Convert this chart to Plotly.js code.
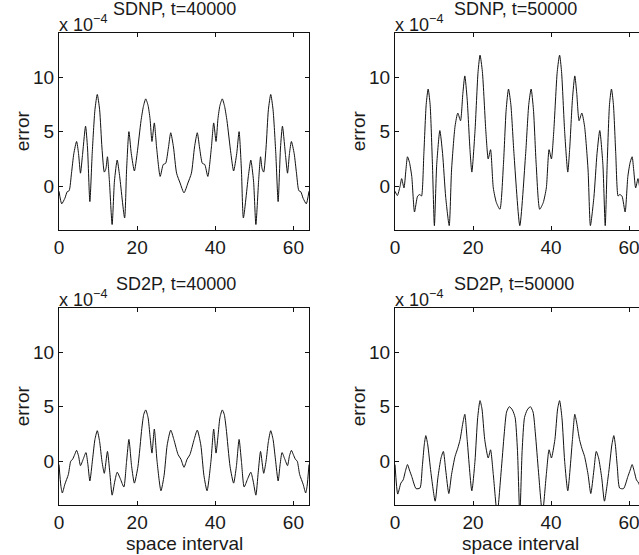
<!DOCTYPE html>
<html>
<head>
<meta charset="utf-8">
<script src="https://cdn.plot.ly/plotly-3.0.1.min.js"></script>
<style>
html,body{margin:0;padding:0;background:#fff;overflow:hidden;}
#chart{width:639px;height:555px;}
</style>
</head>
<body>
<div id="chart"></div>
<script>
// ---- data (space interval vs error, x 1e-4) ----
const sdnp40_x = [0,0.7,1.5,2.1,2.6,3.2,3.8,4.5,5.0,5.5,6.0,6.8,7.3,7.9,8.5,9.2,9.8,10.4,11.0,11.6,12.0,12.4,12.9,13.6,14.2,14.9,15.5,16.8,17.3,17.9,18.5,19.3,20.0,21.0,21.6,22.2,22.8,23.3,23.8,24.4,25.0,25.9,26.7,27.3,28.0,28.6,29.3,30.1,31.0,32.0,
  33.0,33.9,34.7,35.4,36.0,36.7,37.3,38.1,39.0,39.6,40.2,40.7,41.2,41.8,42.4,43.0,44.0,44.7,45.5,46.1,46.7,47.2,48.5,49.1,49.8,50.4,51.1,51.6,52.0,52.4,53.0,53.6,54.2,54.8,55.5,56.1,56.7,57.2,58.0,58.5,59.0,59.5,60.2,60.8,61.4,61.9,62.5,63.3,64.0];
const sdnp40_y = [-0.45,-1.6,-1.1,-0.5,-0.4,1.2,3.0,4.1,3.0,1.2,2.8,5.5,3.5,-1.4,3.0,7.0,8.4,7.0,3.5,1.3,1.6,2.7,0.5,-3.5,0.5,2.4,1.0,-2.9,1.5,5.0,3.0,1.4,3.0,6.0,7.3,8.0,7.4,6.2,4.1,5.8,3.5,0.9,2.0,2.1,3.5,4.9,3.6,1.2,0.3,-0.6,
  0.3,1.2,3.6,4.9,3.5,2.1,2.0,0.9,3.5,5.8,4.1,6.2,7.4,8.0,7.3,6.0,3.0,1.4,3.0,5.0,1.5,-2.9,1.0,2.4,0.5,-3.5,0.5,2.7,1.6,1.3,3.5,7.0,8.4,7.0,3.0,-1.4,3.5,5.5,2.8,1.2,3.0,4.1,3.0,1.2,-0.4,-0.5,-1.1,-1.6,-0.45];

const sdnp50_x = [0,0.6,1.3,1.7,2.3,2.8,3.2,3.7,4.3,5.0,5.8,6.4,6.8,7.4,8.0,8.5,9.0,9.6,10.1,10.7,11.5,12.2,13.0,13.9,14.5,15.4,16.1,16.8,17.4,17.9,18.5,19.2,19.7,20.5,21.3,21.8,22.4,23.3,23.9,24.5,25.2,26.0,26.9,27.8,28.5,29.1,29.7,30.5,32.0,
  33.5,34.3,34.9,35.5,36.2,37.1,38.0,38.8,39.5,40.1,40.7,41.6,42.2,42.7,43.5,44.3,44.8,45.5,46.1,46.6,47.2,47.9,48.6,49.5,50.1,51.0,51.8,52.5,53.3,53.9,54.4,55.0,55.5,56.0,56.6,57.2,57.6,58.2,59.0,59.7,60.3,60.8,61.2,61.7,62.3,62.7,63.4,64.0];
const sdnp50_y = [-0.45,-0.85,0.0,0.7,-0.15,1.5,2.7,2.2,0.9,-2.35,-0.9,-0.75,-0.9,3.0,7.5,8.9,7.5,2.0,-3.6,2.0,5.1,3.0,-1.0,-3.6,1.5,5.5,6.7,6.0,8.5,10.1,8.0,3.5,1.3,5.0,10.5,12.0,10.5,5.0,2.5,3.35,-0.15,-1.5,-2.1,2.0,7.0,8.9,7.5,3.0,-3.6,
  3.0,7.5,8.9,7.0,2.0,-2.1,-1.5,-0.15,3.35,2.5,5.0,10.5,12.0,10.5,5.0,1.3,3.5,8.0,10.1,8.5,6.0,6.7,5.5,1.5,-3.6,-1.0,3.0,5.1,2.0,-3.6,2.0,7.5,8.9,7.5,3.0,-0.9,-0.75,-0.9,-2.35,0.9,2.2,2.7,1.5,-0.15,0.7,0.0,-0.85,-0.45];

const sd2p40_x = [0,0.5,0.85,1.5,2.4,3.0,3.5,4.0,4.5,5.0,5.5,6.2,6.9,7.4,7.9,8.6,9.2,9.8,10.4,11.0,11.6,12.4,13.0,13.6,14.3,14.9,15.7,16.6,17.3,17.9,18.6,19.3,20.2,21.2,21.7,22.2,22.8,23.3,23.8,24.4,25.1,26.1,26.9,27.7,28.6,29.4,30.5,31.2,32.0,
  32.8,33.5,34.6,35.4,36.3,37.1,37.9,38.9,39.6,40.2,40.7,41.2,41.8,42.3,42.8,43.8,44.7,45.4,46.1,46.7,47.4,48.3,49.1,49.7,50.4,51.0,51.6,52.4,53.0,53.6,54.2,54.8,55.4,56.1,56.6,57.1,57.8,58.5,59.0,59.5,60.0,60.5,61.0,61.6,62.5,63.15,63.5,64.0];
const sd2p40_y = [-0.3,-2.3,-2.9,-2.1,-1.2,0.0,0.2,0.6,1.0,0.5,-0.4,0.2,0.8,-0.3,-1.8,0.2,2.0,2.8,1.8,0.0,-1.1,0.9,-1.0,-3.1,-1.8,-1.0,-1.6,-2.35,0.0,2.0,-0.5,-2.0,-0.5,3.0,4.3,4.7,4.0,2.3,0.75,2.95,0.0,-2.7,-1.3,1.5,2.85,2.0,0.6,0.2,-0.55,
  0.2,0.6,2.0,2.85,1.5,-1.3,-2.7,0.0,2.95,0.75,2.3,4.0,4.7,4.3,3.0,-0.5,-2.0,-0.5,2.0,0.0,-2.35,-1.6,-1.0,-1.8,-3.1,-1.0,0.9,-1.1,0.0,1.8,2.8,2.0,0.2,-1.8,-0.3,0.8,0.2,-0.4,0.5,1.0,0.6,0.2,0.0,-1.2,-2.1,-2.9,-2.3,-0.3];

const sd2p50_x = [0,0.7,1.5,2.1,2.6,3.2,3.7,4.3,5.4,6.4,7.0,7.5,7.9,8.4,9.2,10.3,11.0,11.8,12.4,13.0,13.8,14.5,15.4,16.1,16.7,17.4,17.9,18.5,19.7,20.5,21.2,21.8,22.3,23.0,23.9,24.5,25.2,26.2,27.2,28.0,28.6,29.3,30.1,30.8,31.4,32.0,
  32.6,33.2,33.9,34.7,35.4,36.0,36.8,37.8,38.8,39.5,40.1,41.0,41.7,42.2,42.8,43.5,44.3,45.5,46.1,46.6,47.3,47.9,48.6,49.5,50.2,51.0,51.6,52.2,53.0,53.7,54.8,55.6,56.1,56.5,57.0,57.6,58.6,59.7,60.3,60.8,61.4,61.9,62.5,63.3,64.0];
const sd2p50_y = [-0.3,-3.0,-2.0,-1.7,-1.0,-0.3,-0.8,-1.4,-2.5,-2.45,-0.5,1.5,2.35,1.5,-1.0,-3.65,-1.5,0.3,0.9,-0.8,-2.95,-1.2,0.45,1.2,2.0,3.5,4.3,2.0,-2.7,0.0,4.0,5.55,4.8,2.0,0.3,1.05,-1.2,-4.8,-1.0,2.5,4.5,5.0,4.7,4.0,1.0,-5.0,
  1.0,4.0,4.7,5.0,4.5,2.5,-1.0,-4.8,-1.2,1.05,0.3,2.0,4.8,5.55,4.0,0.0,-2.7,2.0,4.3,3.5,2.0,1.2,0.45,-1.2,-2.95,-0.8,0.9,0.3,-1.5,-3.65,-1.0,1.5,2.35,1.5,-0.5,-2.45,-2.5,-1.4,-0.8,-0.3,-1.0,-1.7,-2.0,-3.0,-0.3];

const panelTitles = ["SDNP, t=40000", "SDNP, t=50000", "SD2P, t=40000", "SD2P, t=50000"];
const scaleLabel = "x 10<sup>\u22124</sup>";
const xTickVals = [0, 20, 40, 60];
const yTickVals = [0, 5, 10];
const yLabel = "error";
const xLabel = "space interval";

// ---- layout ----
const W = 639, H = 555;
const FONT = '"Liberation Sans", Arial, Helvetica, sans-serif';
const TXT = '#1a1a1a';

function px2x(p){ return p / W; }
function px2y(p){ return 1 - p / H; }

const colL = [px2x(59), px2x(309)];
const colR = [px2x(395), 1];
const rowT = [px2y(230), px2y(33.3)];
const rowB = [px2y(505), px2y(308.3)];

function xax(domain, anchor, range){
  return {
    domain: domain, anchor: anchor, range: range,
    tickvals: xTickVals, ticktext: xTickVals.map(String),
    ticks: 'inside', ticklen: 4, tickwidth: 1, tickcolor: '#111',
    showline: true, linecolor: '#111', linewidth: 1,
    mirror: 'ticks', showgrid: false, zeroline: false,
    ticklabeloverflow: 'allow',
    tickfont: {family: FONT, size: 19, color: TXT},
    fixedrange: true
  };
}
function yax(domain, anchor, mirror){
  return {
    domain: domain, anchor: anchor, range: [-4, 14],
    tickvals: yTickVals, ticktext: yTickVals.map(String),
    ticks: 'inside', ticklen: 4, tickwidth: 1, tickcolor: '#111',
    showline: true, linecolor: '#111', linewidth: 1,
    mirror: mirror, showgrid: false, zeroline: false,
    ticklabeloverflow: 'allow',
    tickfont: {family: FONT, size: 19, color: TXT},
    fixedrange: true
  };
}

const lineStyle = {color: '#111', width: 1, shape: 'spline', smoothing: 0.6};

const traces = [
  {x: sdnp40_x, y: sdnp40_y, xaxis: 'x', yaxis: 'y', mode: 'lines', line: lineStyle, hoverinfo: 'skip'},
  {x: sdnp50_x, y: sdnp50_y, xaxis: 'x2', yaxis: 'y2', mode: 'lines', line: lineStyle, hoverinfo: 'skip'},
  {x: sd2p40_x, y: sd2p40_y, xaxis: 'x3', yaxis: 'y3', mode: 'lines', line: lineStyle, hoverinfo: 'skip'},
  {x: sd2p50_x, y: sd2p50_y, xaxis: 'x4', yaxis: 'y4', mode: 'lines', line: lineStyle, hoverinfo: 'skip'}
];

const ann = [];
function addPanelText(leftPx, topPx, title, titleLeftPx, showX){
  // scale factor label
  ann.push({xref: 'paper', yref: 'paper', x: px2x(leftPx - 2), y: px2y(topPx + 4),
    xanchor: 'left', yanchor: 'bottom', showarrow: false, text: scaleLabel,
    font: {family: FONT, size: 18, color: TXT}});
  // panel title
  ann.push({xref: 'paper', yref: 'paper', x: px2x(titleLeftPx), y: px2y(topPx - 12),
    xanchor: 'left', yanchor: 'bottom', showarrow: false, text: title,
    font: {family: FONT, size: 18, color: TXT}});
  // y label
  ann.push({xref: 'paper', yref: 'paper', x: px2x(leftPx - 37), y: px2y(topPx + 98),
    xanchor: 'center', yanchor: 'middle', showarrow: false, text: yLabel, textangle: -90,
    font: {family: FONT, size: 19, color: TXT}});
  if (showX){
    ann.push({xref: 'paper', yref: 'paper', x: px2x(leftPx + 125), y: px2y(topPx + 235),
      xanchor: 'center', yanchor: 'middle', showarrow: false, text: xLabel,
      font: {family: FONT, size: 19, color: TXT}});
  }
}
addPanelText(59, 33.3, panelTitles[0], 111, false);
addPanelText(395, 33.3, panelTitles[1], 452, false);
addPanelText(59, 308.3, panelTitles[2], 114, true);
addPanelText(395, 308.3, panelTitles[3], 452, true);

const layout = {
  width: W, height: H,
  margin: {l: 0, r: 0, t: 0, b: 0, pad: 0},
  paper_bgcolor: '#ffffff', plot_bgcolor: '#ffffff',
  showlegend: false,
  font: {family: FONT, size: 18, color: TXT},
  xaxis:  xax(colL, 'y',  [0, 64]),
  yaxis:  yax(rowT, 'x',  'ticks'),
  xaxis2: xax(colR, 'y2', [0, 62.56]),
  yaxis2: yax(rowT, 'x2', false),
  xaxis3: xax(colL, 'y3', [0, 64]),
  yaxis3: yax(rowB, 'x3', 'ticks'),
  xaxis4: xax(colR, 'y4', [0, 62.56]),
  yaxis4: yax(rowB, 'x4', false),
  annotations: ann
};

Plotly.newPlot('chart', traces, layout, {displayModeBar: false, staticPlot: true});
</script>
</body>
</html>
